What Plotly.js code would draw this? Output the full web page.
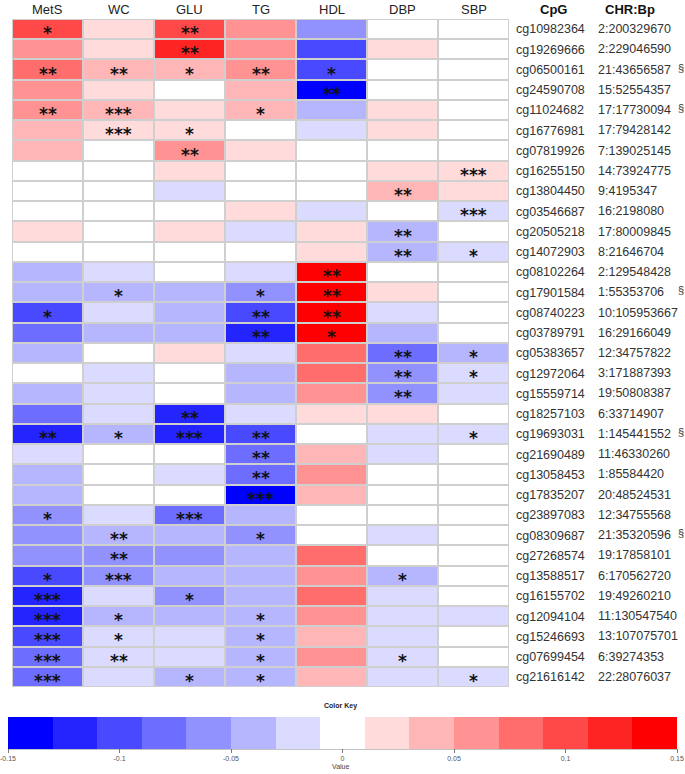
<!DOCTYPE html>
<html>
<head>
<meta charset="utf-8">
<script src="https://cdn.plot.ly/plotly-3.0.1.min.js"></script>
<style>html,body{margin:0;padding:0;background:#fff;}#chart{width:685px;height:774px;}</style>
</head>
<body>
<div id="chart"></div>
<script>
const traits = ['MetS','WC','GLU','TG','HDL','DBP','SBP'];
const cpgs = ['cg10982364','cg19269666','cg06500161','cg24590708','cg11024682','cg16776981','cg07819926','cg16255150','cg13804450','cg03546687','cg20505218','cg14072903','cg08102264','cg17901584','cg08740223','cg03789791','cg05383657','cg12972064','cg15559714','cg18257103','cg19693031','cg21690489','cg13058453','cg17835207','cg23897083','cg08309687','cg27268574','cg13588517','cg16155702','cg12094104','cg15246693','cg07699454','cg21616142'];
const chrBp = ['2:200329670','2:229046590','21:43656587','15:52554357','17:17730094','17:79428142','7:139025145','14:73924775','9:4195347','16:2198080','17:80009845','8:21646704','2:129548428','1:55353706','10:105953667','16:29166049','12:34757822','3:171887393','19:50808387','6:33714907','1:145441552','11:46330260','1:85584420','20:48524531','12:34755568','21:35320596','19:17858101','6:170562720','19:49260210','11:130547540','13:107075701','6:39274353','22:28076037'];
const section = ['','','§','','§','','','','','','','','','§','','','','','','','§','','','','','§','','','','','','',''];

const MetS = [0.10,0.06,0.08,0.06,0.06,0.04,0.04,0,0,0,0.02,0,-0.04,-0.04,-0.10,-0.08,-0.04,0,-0.04,-0.08,-0.12,-0.02,-0.04,-0.04,-0.06,-0.06,-0.06,-0.10,-0.12,-0.12,-0.10,-0.08,-0.08];
const WC   = [0.02,0.02,0.04,0.02,0.04,0.02,0,0,0,0,0,0,-0.02,-0.04,-0.02,-0.04,0,-0.02,-0.02,-0.02,-0.04,0,0,0,-0.02,-0.04,-0.06,-0.06,-0.02,-0.04,-0.02,-0.02,-0.02];
const GLU  = [0.10,0.12,0.04,0,0.02,0.02,0.06,0.02,-0.02,0,0.02,0,0,-0.04,-0.04,-0.04,0.02,0,0,-0.12,-0.12,0,-0.02,0,-0.08,-0.04,-0.06,-0.04,-0.06,-0.04,-0.02,-0.02,-0.04];
const TG   = [0.06,0.06,0.06,0.04,0.04,0,0.02,0,0,0.02,-0.02,0,-0.02,-0.06,-0.10,-0.12,-0.02,-0.04,-0.04,-0.02,-0.10,-0.08,-0.08,-0.14,-0.04,-0.06,-0.04,-0.04,-0.04,-0.04,-0.04,-0.04,-0.04];
const HDL  = [-0.06,-0.10,-0.10,-0.14,-0.04,-0.02,0,0,0,-0.02,0.02,0.02,0.14,0.14,0.14,0.14,0.08,0.08,0.06,0.02,0,0.04,0.06,0.04,0,0,0.08,0.06,0.08,0.06,0.04,0.06,0.04];
const DBP  = [0,0.02,0,0,0.02,0.02,0,0.02,0.04,0,-0.04,-0.04,0,0.02,-0.02,-0.04,-0.08,-0.06,-0.06,0.02,-0.02,-0.02,0,0,0,-0.02,0,-0.04,-0.02,-0.02,-0.02,-0.02,-0.02];
const SBP  = [0,0,0,0,0,0,0,0.02,0.02,-0.02,0,-0.02,0,0,0,0,-0.04,-0.02,-0.02,0,-0.02,0,0,0,0,0,0,0,0,-0.02,0,0,-0.02];

const starsMetS = ['*','','**','','**','','','','','','','','','','*','','','','','','**','','','','*','','','*','***','***','***','***','***'];
const starsWC   = ['','','**','','***','***','','','','','','','','*','','','','','','','*','','','','','**','**','***','','*','*','**',''];
const starsGLU  = ['**','**','*','','','*','**','','','','','','','','','','','','','**','***','','','','***','','','','*','','','','*'];
const starsTG   = ['','','**','','*','','','','','','','','','*','**','**','','','','','**','**','**','***','','*','','','','*','*','*','*'];
const starsHDL  = ['','','*','**','','','','','','','','','**','**','**','*','','','','','','','','','','','','','','','','',''];
const starsDBP  = ['','','','','','','','','**','','**','**','','','','','**','**','**','','','','','','','','','*','','','','*',''];
const starsSBP  = ['','','','','','','','***','','***','','*','','','','','*','*','','','*','','','','','','','','','','','','*'];

const keyColors = ['#0000FF','#2424FF','#4949FF','#6D6DFF','#9292FF','#B6B6FF','#DBDBFF','#FFFFFF','#FFDBDB','#FFB6B6','#FF9292','#FF6D6D','#FF4949','#FF2424','#FF0000'];
const keyTicks = [-0.15,-0.1,-0.05,0,0.05,0.1,0.15];
const keyTickText = ['-0.15','-0.1','-0.05','0','0.05','0.1','0.15'];

const cols = [MetS,WC,GLU,TG,HDL,DBP,SBP];
const starCols = [starsMetS,starsWC,starsGLU,starsTG,starsHDL,starsDBP,starsSBP];
const z = cpgs.map((_,i)=>cols.map(c=>c[i]));

const colorscale = [];
keyColors.forEach((c,i)=>{colorscale.push([i/15,c]);colorscale.push([(i+1)/15,c]);});

const W=685,H=774,L=12,R=176,T=19,B=87;
const pw=W-L-R, ph=H-T-B;
const px2x = x=>(x-L)/pw;
const px2y = y=>(H-B-y)/ph;
const font = 'Liberation Sans, Arial, sans-serif';

const trace = {
  type:'heatmap', x:traits, y:cpgs, z:z,
  zmin:-0.15, zmax:0.15, colorscale:colorscale,
  xgap:2, ygap:2, hoverinfo:'skip',
  colorbar:{
    orientation:'h', x:px2x(342.5), xanchor:'center', y:px2y(717), yanchor:'top',
    thickness:32, thicknessmode:'pixels', len:669, lenmode:'pixels',
    xpad:0, ypad:0, outlinewidth:0, bgcolor:'rgba(0,0,0,0)', title:{text:''},
    tickmode:'array', tickvals:keyTicks, ticktext:keyTickText,
    ticks:'outside', ticklen:4, tickcolor:'#777', tickwidth:1,
    tickfont:{family:font, size:7, color:'#555'}
  }
};

const annotations = [];
traits.forEach(t=>{
  annotations.push({x:t, y:px2y(10), xref:'x', yref:'paper', text:t, showarrow:false, xanchor:'center', yanchor:'middle',
    font:{family:font, size:13, color:'#222'}});
});
starCols.forEach((sc,j)=>{
  sc.forEach((s,i)=>{
    if(s) annotations.push({x:traits[j], y:cpgs[i], xref:'x', yref:'y', text:'<b>'+s+'</b>', showarrow:false,
      font:{family:'DejaVu Sans', size:17, color:'#111'}, yshift:-4});
  });
});
chrBp.forEach((c,i)=>{
  annotations.push({x:px2x(596), y:cpgs[i], xref:'paper', yref:'y', text:c, showarrow:false, xanchor:'left', yanchor:'middle',
    font:{family:font, size:12.5, color:'#333'}});
  if(section[i]) annotations.push({x:px2x(676), y:cpgs[i], xref:'paper', yref:'y', text:section[i], showarrow:false, xanchor:'left', yanchor:'middle', yshift:2,
    font:{family:font, size:11, color:'#333'}});
});
function lab(txt, xp, yp, size, color){
  annotations.push({x:px2x(xp), y:px2y(yp), xref:'paper', yref:'paper', text:txt, showarrow:false, xanchor:'center', yanchor:'middle',
    font:{family:font,size:size,color:color}});
}
lab('<b>CpG</b>', 553, 10, 13, '#111');
lab('<b>CHR:Bp</b>', 630, 10, 13, '#111');
lab('<b>Color Key</b>', 340, 706, 7, '#222');
lab('Value', 340, 766, 7, '#444');

const layout = {
  width:W, height:H, margin:{l:L,r:R,t:T,b:B,autoexpand:false},
  paper_bgcolor:'#fff', plot_bgcolor:'#cfcfcf',
  xaxis:{side:'top', type:'category', range:[-0.5,6.5], autorange:false, showgrid:false, zeroline:false, ticks:'', showline:false,
    showticklabels:false, fixedrange:true},
  yaxis:{side:'right', type:'category', range:[32.5,-0.5], autorange:false, showgrid:false, zeroline:false, ticks:'', showline:false,
    tickfont:{family:font, size:12.5, color:'#333'}, ticklabelstandoff:6, fixedrange:true},
  annotations:annotations,
  shapes:[
    {type:'rect', xref:'paper', yref:'paper', x0:-0.03, x1:1.03, y0:px2y(18.5), y1:px2y(-2), fillcolor:'#ffffff', line:{width:0}, layer:'above'},
    {type:'line', xref:'paper', yref:'paper', x0:px2x(8), x1:px2x(677), y0:px2y(749), y1:px2y(749), line:{color:'#888', width:1}}
  ],
  showlegend:false
};

Plotly.newPlot('chart',[trace],layout,{staticPlot:true, displayModeBar:false});
</script>
</body>
</html>
